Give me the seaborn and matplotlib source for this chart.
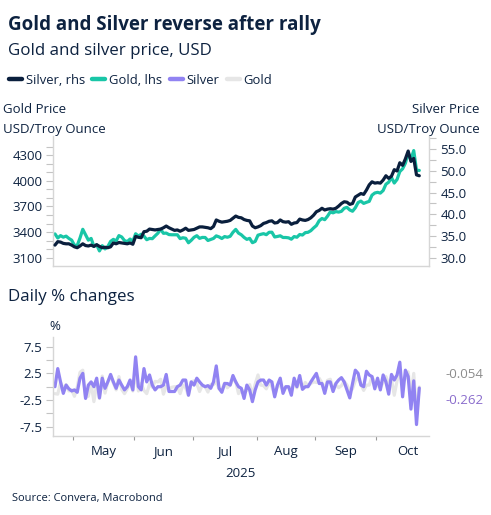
import numpy as np
import pandas as pd
import matplotlib
matplotlib.use("Agg")
import matplotlib.pyplot as plt
import seaborn as sns
from matplotlib.ticker import FixedLocator, FormatStrFormatter, NullFormatter
import matplotlib.transforms as mtransforms

# ---------------- data ----------------
start_date = "2025-04-22"
end_date = "2025-10-22"

gold_price = [
    3378, 3330, 3358, 3340, 3352, 3325, 3305,
    3245, 3242, 3330, 3432, 3368, 3305, 3325, 3232, 3250, 3178, 3240, 3202, 3230, 3290, 3314, 3295, 3358, 3342, 3300, 3288, 3318, 3290,
    3380, 3353, 3374, 3352, 3310, 3325, 3322, 3355, 3386, 3432, 3385, 3388, 3370, 3368, 3368, 3368, 3323, 3333, 3327, 3274, 3303,
    3338, 3357, 3326, 3337, 3336, 3301, 3313, 3325, 3355, 3343, 3324, 3347, 3339, 3350, 3397, 3431, 3387, 3368, 3337, 3314, 3326, 3275, 3290,
    3363, 3373, 3381, 3369, 3397, 3398, 3342, 3348, 3356, 3336, 3336, 3332, 3316, 3347, 3339, 3371, 3365, 3393, 3397, 3416, 3448,
    3476, 3533, 3559, 3545, 3586, 3636, 3625, 3640, 3634, 3643, 3679, 3690, 3659, 3644, 3685, 3746, 3763, 3736, 3749, 3760, 3833, 3858,
    3866, 3857, 3887, 3961, 3985, 4040, 3975, 4017, 4110, 4142, 4208, 4326, 4251, 4356, 4125, 4123,
]

silver_price = [
    32.9, 33.7, 33.6, 33.3, 33.2, 33.2, 32.9,
    32.5, 32.3, 32.7, 33.2, 32.8, 32.7, 32.9, 32.6, 33.0, 32.6, 32.3, 32.4, 32.3, 32.5, 33.4, 33.2, 33.5, 33.4, 33.3, 33.2, 33.4, 33.1,
    34.9, 34.7, 34.6, 36.0, 36.1, 36.6, 36.5, 36.4, 36.5, 36.6, 36.9, 37.3, 36.9, 36.6, 36.3, 36.4, 36.1, 36.4, 36.8, 36.3, 36.4,
    36.5, 36.8, 37.1, 37.1, 37.0, 36.9, 36.7, 37.2, 38.7, 38.4, 38.2, 38.3, 38.4, 38.6, 39.1, 39.6, 39.3, 39.2, 38.8, 38.6, 38.5, 37.3, 36.9,
    37.1, 37.4, 37.9, 38.1, 38.4, 38.5, 38.0, 38.1, 38.7, 38.3, 38.2, 38.3, 37.7, 38.0, 38.1, 38.9, 38.7, 38.6, 38.8, 39.2, 39.8,
    40.6, 40.9, 41.4, 41.0, 41.2, 41.3, 41.2, 41.4, 41.9, 42.5, 42.9, 42.8, 42.3, 42.5, 44.0, 44.4, 44.8, 44.6, 45.6, 46.8, 47.5, 47.2,
    47.3, 47.2, 47.9, 48.9, 48.3, 48.8, 50.3, 50.0, 51.9, 51.3, 52.8, 54.6, 52.2, 52.9, 49.1, 48.9,
]

silver_chg = [
    0.0, 3.4, 0.9, -1.25, 0.3, -0.4, -0.8, -0.6, -1.05, 1.6, 2.5, -2.2, 0.3, 0.9, 0.0, 1.6, -2.1, 1.6, -0.3, 0.9,
    2.3, 0.9, -0.3, 1.25, 0.3, -0.6, 0.0, 1.25, -0.6, 5.6, 0.0, -0.6, 3.4, 0.9, 2.2, 0.3, -0.6, 0.0, 0.0, 0.3,
    2.3, -0.9, -0.9, -0.9, 0.0, 0.3, 1.25, 1.25, -1.6, 0.9, 0.3, 1.6, 0.9, 0.3, 0.0, 0.2, -0.3, 0.9, 3.9, -0.3,
    -1.05, 0.6, 0.6, 0.3, 2.1, 0.9, 0.0, -0.3, -2.2, 0.3, -0.6, -2.8, -0.6, 0.9, 1.25, 1.25, 0.3, 1.25, 0.9, -1.9,
    0.3, 1.6, -1.25, 0.0, 0.0, -1.6, 1.6, 0.0, 2.1, -0.5, 0.0, 0.0, 0.9, 1.7, 2.5, 0.6, 0.6, -1.25, 0.9, 0.9,
    -0.9, 0.6, 1.25, 1.7, 0.9, -0.6, -2.1, 0.6, 3.1, 2.5, 0.3, 0.0, 2.9, 2.2, 1.9, -0.4, 1.6, -0.6, 2.2, 0.9,
    -1.4, 2.3, 1.25, 2.2, 4.6, -1.9, 3.1, 1.9, -4.2, 1.1, -7.1, -0.262,
]

gold_chg = [
    -1.3, -1.4, 0.8, -0.5, 0.4, -0.8, -0.6, -1.8, -0.1, 2.7, 3.1, -1.9, -1.8, 0.6, -2.8, 0.6, -2.2, 2.0, -1.2, 0.9,
    1.9, 0.7, -0.6, 1.9, -0.5, -1.3, -0.4, 0.9, -0.8, 2.7, -0.8, 0.6, -0.7, -1.3, 0.5, -0.1, 1.0, 0.9, 1.4, -1.4,
    0.1, -0.5, -0.1, 0.0, 0.0, -1.3, 0.3, -0.2, -1.6, 0.9, 1.1, 0.6, -0.9, 0.3, 0.0, -1.0, 0.4, 0.4, 0.9, -0.4,
    -0.6, 0.7, -0.2, 0.3, 1.4, 1.0, -1.3, -0.6, -0.9, -0.7, 0.4, -1.5, 0.5, 2.2, 0.3, 0.2, -0.4, 0.8, 0.0, -1.6,
    0.2, 0.2, -0.6, 0.0, -0.1, -0.5, 0.9, -0.2, 1.0, -0.2, 0.8, 0.1, 0.6, 0.9, 0.8, 1.6, 0.7, -0.4, 1.2, 1.4,
    -0.3, 0.4, -0.2, 0.2, 1.0, 0.3, -0.8, -0.4, 1.1, 1.7, 0.5, -0.7, 0.3, 0.3, 1.9, 0.7, 0.2, -0.2, 0.8, 1.9,
    0.6, 1.4, -1.6, 1.1, 2.3, 0.8, 1.6, 2.8, -1.7, 2.5, -5.3, -0.054,
]

series_labels = ["Silver, rhs", "Gold, lhs", "Silver", "Gold"]
left_ticks = [3100, 3400, 3700, 4000, 4300]
right_ticks = [30.0, 35.0, 40.0, 45.0, 50.0, 55.0]
chg_ticks = [-7.5, -2.5, 2.5, 7.5]
year_label = "2025"

# ---------------- style ----------------
NAVY = "#0a1f3d"
TEAL = "#19c6a7"
PURPLE = "#9183f2"
GREY = "#e6e6e6"
TXT = "#0d2240"
SPINE = "#d6d6d6"

sns.set_theme(style="white")
plt.rcParams["font.family"] = ["Open Sans", "DejaVu Sans"]

dates = pd.bdate_range(start_date, end_date)
n = len(dates)
assert n == len(gold_price) == len(silver_price) == len(silver_chg) == len(gold_chg)
df = pd.DataFrame({
    "idx": np.arange(n), "date": dates,
    "gold": gold_price, "silver": silver_price,
    "silver_chg": silver_chg, "gold_chg": gold_chg,
})

W, H = 491, 515
fig = plt.figure(figsize=(W / 100, H / 100), dpi=100)


def rect(l, t, r, b):
    return [l / W, 1 - b / H, (r - l) / W, (b - t) / H]


def ftext(x, y, s, **kw):
    kw.setdefault("color", TXT)
    kw.setdefault("va", "baseline")
    fig.text(x / W, 1 - y / H, s, **kw)


ax1 = fig.add_axes(rect(53.3, 136, 429.3, 265.7))
ax2 = ax1.twinx()
ax3 = fig.add_axes(rect(53.3, 336.7, 429.3, 435.7))

LW = 2.3
sns.lineplot(data=df, x="idx", y="gold", ax=ax1, color=TEAL, lw=LW, legend=False)
sns.lineplot(data=df, x="idx", y="silver", ax=ax2, color=NAVY, lw=LW, legend=False)
sns.lineplot(data=df, x="idx", y="gold_chg", ax=ax3, color=GREY, lw=LW, legend=False)
sns.lineplot(data=df, x="idx", y="silver_chg", ax=ax3, color=PURPLE, lw=LW, legend=False)

xlim = (-0.6, 134.6)
for a in (ax1, ax2, ax3):
    a.set_xlim(*xlim)
    a.set_xlabel("")
    a.set_ylabel("")
    a.grid(False)
    a.patch.set_alpha(0)

ax1.set_ylim(3005, 4527)
ax2.set_ylim(28.15, 58.07)
ax3.set_ylim(-9.19, 9.38)

# spines
for a in (ax1, ax2, ax3):
    for s in a.spines.values():
        s.set_color(SPINE)
        s.set_linewidth(1.0)
ax1.spines["top"].set_visible(False)
ax1.spines["right"].set_visible(False)
ax2.spines["top"].set_visible(False)
ax2.spines["left"].set_visible(False)
ax2.spines["bottom"].set_visible(False)
ax3.spines["top"].set_visible(False)
ax3.spines["right"].set_visible(False)

tick_kw = dict(length=5, width=0.8, color="#c4c4c4", labelcolor=TXT, labelsize=9.5, pad=3)

ax1.yaxis.set_major_locator(FixedLocator(left_ticks))
ax1.yaxis.set_minor_locator(FixedLocator(np.arange(3100, 4500, 100)))
ax1.tick_params(axis="y", which="both", left=True, right=False, **tick_kw)
ax1.tick_params(axis="x", which="both", bottom=False, labelbottom=False)

ax2.yaxis.set_major_locator(FixedLocator(right_ticks))
ax2.yaxis.set_minor_locator(FixedLocator(np.arange(30.0, 57.6, 2.5)))
ax2.yaxis.set_major_formatter(FormatStrFormatter("%.1f"))
ax2.tick_params(axis="y", which="both", right=True, left=False, **tick_kw)

ax3.yaxis.set_major_locator(FixedLocator(chg_ticks))
ax3.yaxis.set_minor_locator(FixedLocator([-5, 0, 5]))
ax3.yaxis.set_major_formatter(FormatStrFormatter("%.1f"))
ax3.tick_params(axis="y", which="both", left=True, **tick_kw)

# month ticks: boundaries as minor ticks, labels centred in month
months = df.groupby(df["date"].dt.to_period("M"))["idx"].agg(["min", "count"])
full = months.iloc[1:]
bounds = (full["min"] - 0.5).tolist()
mids = []
for per, row in full.iterrows():
    nb = len(pd.bdate_range(per.start_time, per.end_time))
    mids.append(row["min"] - 0.5 + nb / 2)
ax3.xaxis.set_minor_locator(FixedLocator(bounds))
ax3.xaxis.set_minor_formatter(NullFormatter())
ax3.xaxis.set_major_locator(FixedLocator(mids))
ax3.set_xticklabels([p.strftime("%b") for p in full.index])
ax3.tick_params(axis="x", which="minor", bottom=True, length=3, width=0.8, color="#9a9a9a")
ax3.tick_params(axis="x", which="major", bottom=True, length=0, labelsize=9.5, labelcolor=TXT, pad=7)

# ---------------- texts ----------------
ftext(8, 30, "Gold and Silver reverse after rally", fontsize=13.5, fontweight="bold")
ftext(8, 55, "Gold and silver price, USD", fontsize=12.2)
ftext(3, 113, "Gold Price", fontsize=9.5)
ftext(3, 132.7, "USD/Troy Ounce", fontsize=9.5)
ftext(480, 113, "Silver Price", fontsize=9.5, ha="right")
ftext(480, 132.7, "USD/Troy Ounce", fontsize=9.5, ha="right")
ftext(8, 300.7, "Daily % changes", fontsize=12.2)
ftext(49, 330, "%", fontsize=9.5)
ftext(241, 476.7, year_label, fontsize=9.5, ha="center")
ftext(11.5, 500.7, "Source: Convera, Macrobond", fontsize=8.0)

# last values on the right of the lower panel
trans = mtransforms.blended_transform_factory(fig.transFigure, ax3.transData)
ax3.text(445 / W, 2.2, f"{gold_chg[-1]:.3f}", transform=trans, color="#8c8c8c",
         fontsize=9.5, va="center", ha="left")
ax3.text(445 / W, -2.6, f"{silver_chg[-1]:.3f}", transform=trans, color="#8a6ccc",
         fontsize=9.5, va="center", ha="left")

# legend
handles = [ax2.lines[0], ax1.lines[0], ax3.lines[1], ax3.lines[0]]
leg = fig.legend(handles, series_labels, loc="center left", bbox_to_anchor=(9 / W, 1 - 80.5 / H),
                 ncol=4, frameon=False, fontsize=9.4, handlelength=1.0, handletextpad=0.3,
                 columnspacing=0.55, borderpad=0, borderaxespad=0, labelcolor=TXT)
for h in leg.legend_handles:
    h.set_linewidth(3.2)

fig.savefig("out.png", dpi=100)
